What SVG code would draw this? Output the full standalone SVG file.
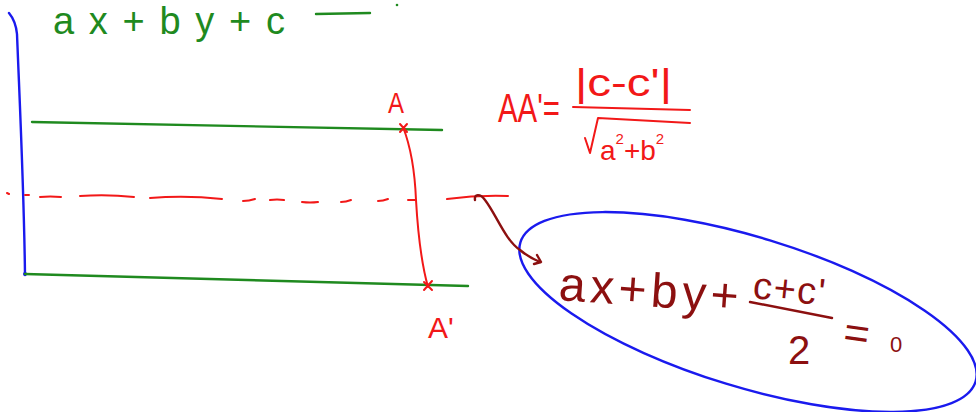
<svg xmlns="http://www.w3.org/2000/svg" width="976" height="412" viewBox="0 0 976 412">
<style>
.s{fill:none;stroke-linecap:round;stroke-linejoin:round}
.g{stroke:#1f8a1f;stroke-width:2.4}
.r{stroke:#f21818;stroke-width:2}
.b{stroke:#1a1aee;stroke-width:2.4}
.br{stroke:#8c1010;stroke-width:2.4}
.t{font-family:"Liberation Sans","DejaVu Sans",sans-serif}
.tg{fill:#1f8a1f}
.tr{fill:#f21818}
.tb{fill:#8c1010}
</style>
<rect width="976" height="412" fill="#ffffff"/>
<g id="axis">
<path class="s b" d="M9,13 C14,19 16,24 17,34 C20,110 24,190 25,275"/>
<circle cx="25" cy="274" r="2" fill="#1a1aee"/>
</g>
<g id="top-equation">
<text class="t tg" x="53" y="34" font-size="38" textLength="232" lengthAdjust="spacing">ax+by+c</text>
<path class="s g" d="M316,14 L370,13"/>
<circle cx="397" cy="5" r="1.3" fill="#1f8a1f"/>
</g>
<g id="line-top">
<path class="s g" d="M32,122 L442,130"/>
</g>
<g id="line-bottom">
<path class="s g" d="M25,274 L468,286"/>
</g>
<g id="mid-line">
<path class="s r" d="M7,193 l2,1 M25,195 l4,0 M40,197 q10,-1 21,0 M80,196 q27,-2 54,1 M150,198 q36,-3 72,1 M243,201 q6,0 12,-2 M270,200 q7,-1 14,0 M302,202 q8,1 16,0 M341,202 q5,0 10,-2 M378,201 q5,0 10,-2 M408,200 l8,0 M447,199 q30,-4 61,-3"/>
</g>
<g id="segment-AA">
<path class="s r" d="M403,127 C412,150 415,175 416,200 C418,235 421,262 428,287"/>
<path class="s r" d="M400,124 L407,132 M407,124 L400,132"/>
<path class="s r" d="M424,282 L432,290 M432,281 L424,290"/>
<text class="t tr" x="388" y="113" font-size="30" textLength="16" lengthAdjust="spacingAndGlyphs">A</text>
<text class="t tr" x="428" y="338" font-size="30">A'</text>
</g>
<g id="distance-formula">
<text class="t tr" x="498" y="122" font-size="40" textLength="62" lengthAdjust="spacingAndGlyphs">AA'=</text>
<text class="t tr" x="575" y="96" font-size="38" textLength="97" lengthAdjust="spacingAndGlyphs">|c-c'|</text>
<path class="s r" d="M573,107 L690,110"/>
<path class="s r" d="M585,138 L590,153 L598,118 L690,123"/>
<text class="t tr" x="600" y="160" font-size="28">a<tspan font-size="15" dy="-16">2</tspan><tspan dy="16">+b</tspan><tspan font-size="15" dy="-16">2</tspan></text>
</g>
<g id="result">
<ellipse class="s b" cx="748" cy="312" rx="238" ry="75" transform="rotate(17 748 312)"/>
<text class="t tb" x="558" y="300" font-size="48" textLength="180" lengthAdjust="spacing" transform="rotate(4 558 300)">ax+by+</text>
<text class="t tb" x="752" y="298" font-size="38" textLength="72" lengthAdjust="spacing" transform="rotate(6 752 298)">c+c'</text>
<path class="s br" d="M750,302 L832,318"/>
<text class="t tb" x="788" y="364" font-size="40">2</text>
<text class="t tb" x="842" y="346" font-size="44" transform="rotate(8 842 346)">=</text>
<text class="t tb" x="890" y="352" font-size="22">0</text>
</g>
<g id="connectors">
<path class="s br" d="M475,200 C474,194 480,193 485,200 C496,214 505,240 520,250 C527,256 533,259 540,262"/>
<path class="s br" d="M537,255 L541,262 L534,264"/>
</g>
</svg>
